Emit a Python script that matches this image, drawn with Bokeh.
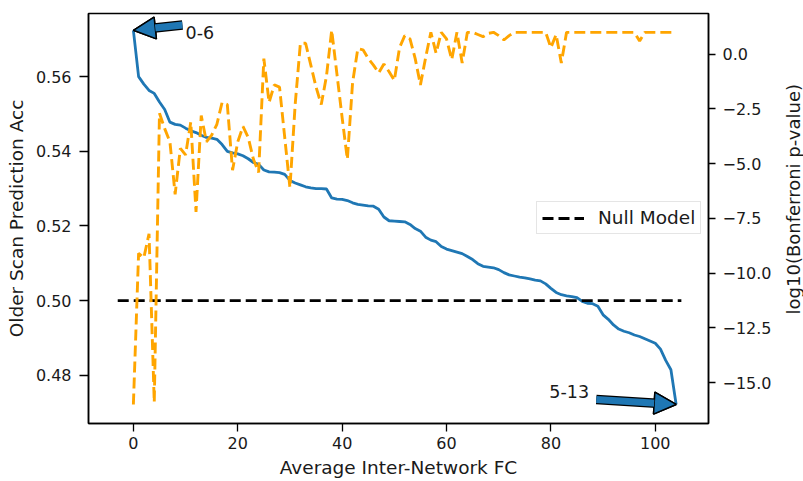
import math
from bokeh.plotting import figure
from bokeh.layouts import row
from bokeh.models import (Range1d, LinearAxis, FixedTicker, Legend, LegendItem,
                          Arrow, NormalHead, Label, CustomJSTickFormatter)
from bokeh.core.properties import value
from bokeh.embed import file_html
from bokeh.resources import INLINE

# ---------------- data ----------------
fc = list(range(105))
acc = [0.5724, 0.5600, 0.5580, 0.5563, 0.5555, 0.5532, 0.5512, 0.5478, 0.5472, 0.5470,
       0.5462, 0.5455, 0.5450, 0.5443, 0.5437, 0.5435, 0.5432, 0.5418, 0.5400, 0.5396,
       0.5393, 0.5388, 0.5380, 0.5370, 0.5365, 0.5350, 0.5345, 0.5344, 0.5343, 0.5338,
       0.5322, 0.5315, 0.5310, 0.5305, 0.5302, 0.5300, 0.5300, 0.5299, 0.5275, 0.5272,
       0.5271, 0.5268, 0.5262, 0.5258, 0.5256, 0.5254, 0.5253, 0.5245, 0.5224, 0.5214,
       0.5213, 0.5212, 0.5211, 0.5204, 0.5193, 0.5186, 0.5170, 0.5162, 0.5158, 0.5145,
       0.5138, 0.5134, 0.5130, 0.5126, 0.5118, 0.5110, 0.5099, 0.5092, 0.5090, 0.5088,
       0.5083, 0.5075, 0.5069, 0.5066, 0.5063, 0.5061, 0.5058, 0.5055, 0.5053, 0.5045,
       0.5033, 0.5022, 0.5016, 0.5013, 0.5011, 0.5008, 0.4998, 0.4993, 0.4992, 0.4985,
       0.4962, 0.4950, 0.4935, 0.4924, 0.4918, 0.4914, 0.4908, 0.4904, 0.4898, 0.4892,
       0.4886, 0.4870, 0.4840, 0.4815, 0.4722]
logp = [-16.0, -9.1, -9.3, -8.2, -15.9, -2.7, -3.4, -4.0, -6.4, -4.3,
        -4.6, -3.1, -7.2, -2.8, -4.0, -3.7, -3.2, -2.2, -2.3, -5.3,
        -4.0, -3.3, -3.8, -4.8, -5.4, -0.2, -2.2, -1.4, -1.5, -3.8,
        -6.1, -2.3, 0.5, 0.5, -0.5, -1.5, -2.3, -1.0, 1.1, -0.9,
        -2.9, -4.8, -1.3, 0.25, 0.2, -0.2, -0.5, -0.85, -0.45, -0.8,
        -1.2, 0.3, 0.85, 0.7, -0.2, -1.4, -0.15, 1.0, 0.05, 1.0,
        0.7, -0.25, 1.0, -0.4, 1.0, 1.0, 0.9, 0.8, 0.95, 1.0,
        0.85, 0.65, 0.85, 1.0, 1.0, 1.0, 1.0, 1.0, 1.0, 1.0,
        0.3, 0.9, -0.4, 1.0, 1.0, 1.0, 1.0, 1.0, 1.0, 1.0,
        1.0, 1.0, 1.0, 1.0, 1.0, 1.0, 1.0, 0.6, 1.0, 1.0,
        1.0, 1.0, 1.0, 1.0, 1.0]
null_x = [-3, 105]
null_y = [0.5, 0.5]
x_ticks = [0, 20, 40, 60, 80, 100]
left_ticks = [0.48, 0.50, 0.52, 0.54, 0.56]
right_ticks = [0.0, -2.5, -5.0, -7.5, -10.0, -12.5, -15.0]

x_label = "Average Inter-Network FC"
left_label = "Older Scan Prediction Acc"
right_label = "log10(Bonferroni p-value)"
legend_label = "Null Model"

ann_top_text = "0-6"
ann_top_text_pos = (10.0, 0.5717)
ann_top_tail = (9.4, 0.5738)
ann_bot_text = "5-13"
ann_bot_text_pos = (79.7, 0.4756)
ann_bot_tail = (88.7, 0.4735)

# ---------------- style ----------------
FONT = "DejaVu Sans"
BLUE = "#1f77b4"
ORANGE = "#ffa500"
TEXT = "#1a1a1a"
TICK_FS = "16px"
LABEL_FS = "18.5px"
MAIN_W, SIDE_W, H = 780, 23, 481

p = figure(width=MAIN_W, height=H, output_backend="svg", toolbar_location=None,
           x_range=Range1d(-8.6, 110.2), y_range=Range1d(0.4671, 0.5769),
           min_border_left=88, min_border_right=72, min_border_top=13,
           min_border_bottom=58)
p.extra_y_ranges = {"p": Range1d(-16.87, 1.86)}
p.xgrid.visible = False
p.ygrid.visible = False
p.outline_line_color = "black"
p.outline_line_width = 1.5
p.background_fill_color = "white"
p.border_fill_color = "white"

blue_r = p.line(fc, acc, line_color=BLUE, line_width=2.8)
null_r = p.line(null_x, null_y, line_color="black", line_width=2.9, line_dash="11 5")
orange_r = p.line(fc, logp, line_color=ORANGE, line_width=2.9, line_dash="11 5",
                  y_range_name="p")

right_axis = LinearAxis(y_range_name="p")
p.add_layout(right_axis, "right")


def style_axis(ax, tick_len, standoff):
    ax.axis_line_color = "black"
    ax.axis_line_width = 1.5
    ax.major_tick_line_color = "black"
    ax.major_tick_line_width = 1.3
    ax.major_tick_in = 0
    ax.major_tick_out = tick_len
    ax.minor_tick_line_color = None
    ax.major_label_standoff = standoff
    ax.major_label_text_font = FONT
    ax.major_label_text_font_size = TICK_FS
    ax.major_label_text_color = TEXT
    ax.axis_label_text_font = FONT
    ax.axis_label_text_font_size = LABEL_FS
    ax.axis_label_text_font_style = "normal"
    ax.axis_label_text_color = TEXT


xa = p.xaxis[0]
ya = p.yaxis[0]
style_axis(xa, 8, 5)
style_axis(ya, 9, 8)
style_axis(right_axis, 7, 7)

xa.ticker = FixedTicker(ticks=x_ticks)
xa.axis_label = x_label
xa.axis_label_standoff = 5

ya.ticker = FixedTicker(ticks=left_ticks)
ya.formatter = CustomJSTickFormatter(code="return tick.toFixed(2);")
ya.axis_label = left_label
ya.axis_label_standoff = 6

right_axis.ticker = FixedTicker(ticks=right_ticks)
right_axis.formatter = CustomJSTickFormatter(
    code="return (tick < 0 ? '\\u2212' : '') + Math.abs(tick).toFixed(1);")

legend = Legend(items=[LegendItem(label=legend_label, renderers=[null_r])],
                location=(448, 189))
legend.label_text_font = FONT
legend.label_text_font_size = LABEL_FS
legend.label_text_color = TEXT
legend.glyph_width = 42
legend.glyph_height = 20
legend.label_standoff = 14
legend.padding = 5
legend.margin = 0
legend.border_line_color = "#cccccc"
legend.border_line_width = 1.2
legend.background_fill_alpha = 0.85
p.add_layout(legend)


def add_arrow(tail, tip):
    base = Arrow(x_start=tail[0], y_start=tail[1], x_end=tip[0], y_end=tip[1],
                 line_color="black", line_width=9.5,
                 end=NormalHead(size=22, fill_color="black", line_color="black",
                                line_width=1.5))
    top = Arrow(x_start=tail[0], y_start=tail[1], x_end=tip[0], y_end=tip[1],
                line_color=BLUE, line_width=7,
                end=NormalHead(size=22, fill_color=BLUE, line_color="black",
                               line_width=1.5))
    p.add_layout(base)
    p.add_layout(top)


add_arrow(ann_top_tail, (fc[0], acc[0]))
add_arrow(ann_bot_tail, (fc[-1], acc[-1]))

for txt, pos in [(ann_top_text, ann_top_text_pos), (ann_bot_text, ann_bot_text_pos)]:
    p.add_layout(Label(x=pos[0], y=pos[1], text=txt, text_font=FONT,
                       text_font_size="17.5px", text_baseline="middle",
                       text_align="left", text_color=TEXT))

# narrow side strip carrying the right-hand axis title (reads bottom-to-top)
side = figure(width=SIDE_W, height=H, output_backend="svg", toolbar_location=None,
              x_range=Range1d(0, 1), y_range=Range1d(0, 1),
              x_axis_location=None, y_axis_location=None,
              min_border_left=0, min_border_right=0, min_border_top=0,
              min_border_bottom=0)
side.outline_line_color = None
side.grid.visible = False
side.background_fill_color = "white"
side.border_fill_color = "white"
side.text(x=[0.55], y=[0.547], text=[right_label], angle=math.pi / 2,
          text_font=value(FONT), text_font_size=value("18px"),
          text_align="center", text_baseline="middle", text_color=TEXT)

layout = row(p, side)
open("out.html", "w").write(file_html(layout, INLINE))
